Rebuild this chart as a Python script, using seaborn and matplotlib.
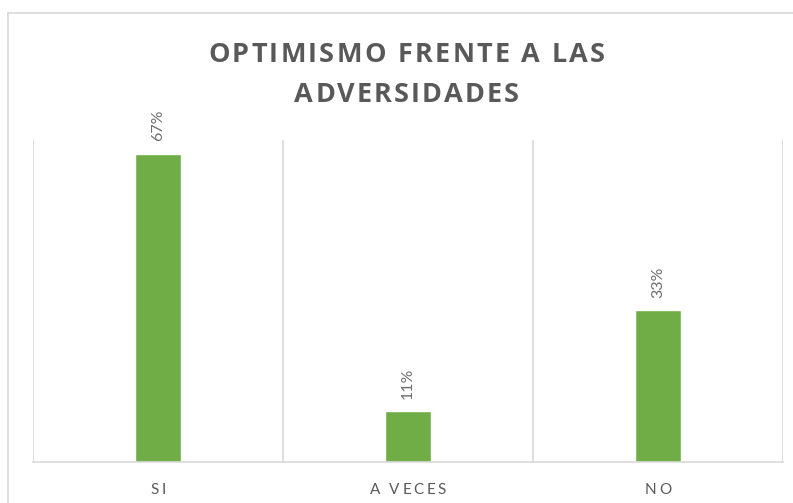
import numpy as np
import pandas as pd
import seaborn as sns
from matplotlib import pyplot as plt
from matplotlib.lines import Line2D
from matplotlib.font_manager import FontProperties
from matplotlib.transforms import offset_copy, blended_transform_factory

# data
categorias = ['SI', 'A VECES', 'NO']
porcentajes = [0.67, 0.11, 0.33]
etiquetas = ['67%', '11%', '33%']
titulo = ['OPTIMISMO FRENTE A LAS', 'ADVERSIDADES']

df = pd.DataFrame({'respuesta': categorias, 'valor': porcentajes})

sns.set_style('white')
familia = ['Lato', 'DejaVu Sans']
plt.rcParams['font.family'] = familia

fig = plt.figure(figsize=(7.93, 5.03), dpi=100)
fig.patch.set_facecolor('white')
ax = fig.add_axes([0.0416, 0.0815, 0.9458, 0.640])

sns.barplot(data=df, x='respuesta', y='valor', color='#70AD47', saturation=1,
            width=0.184, ax=ax)

ax.set_ylim(0, 0.7)
ax.set_xlim(-0.5, 2.5)
ax.set_yticks([])
ax.set_xlabel('')
ax.set_ylabel('')
for s in ['top', 'right', 'left']:
    ax.spines[s].set_visible(False)
ax.spines['bottom'].set_color('#d9d9d9')
ax.spines['bottom'].set_linewidth(1.2)

# separadores de categoria
for xb in [-0.5, 0.5, 1.5, 2.5]:
    ax.axvline(xb, color='#d9d9d9', lw=1.2, zorder=0)

ax.tick_params(axis='x', length=0)
ax.set_xticklabels([''] * len(categorias))

renderer = fig.canvas.get_renderer()


def texto_espaciado(x, y, s, prop, spacing, transform, color='#595959',
                    total_px=None):
    # texto con espaciado entre letras, centrado en x
    def ancho(t):
        return renderer.get_text_width_height_descent(t, prop, ismath=False)[0]

    base = ancho('HH')
    anchos = [ancho('H' + c + 'H') - base for c in s]
    if total_px is not None:
        spacing = (total_px - sum(anchos)) / (len(s) - 1)
    total = sum(anchos) + spacing * (len(s) - 1)
    pos = -total / 2
    for c, w in zip(s, anchos):
        if c != ' ':
            tr = offset_copy(transform, fig=fig, x=pos, y=0, units='dots')
            fig.text(x, y, c, transform=tr, ha='left', va='baseline',
                     fontproperties=prop, color=color)
        pos += w + spacing


# etiquetas del eje x
prop_x = FontProperties(family=familia, size=11)
tr_x = blended_transform_factory(ax.transData, fig.transFigure)
for i, cat in enumerate(categorias):
    texto_espaciado(i, 1 - 494 / 503, cat, prop_x, 2.6, tr_x)

# etiquetas de datos
for i, (v, t) in enumerate(zip(porcentajes, etiquetas)):
    ax.annotate(t, (i, v), xytext=(0, 9), textcoords='offset points',
                rotation=90, ha='center', va='bottom', fontsize=11.5,
                color='#6f6f6f')

# titulo
prop_t = FontProperties(family=['Open Sans', 'DejaVu Sans'], size=19.5,
                        weight='bold')
texto_espaciado(406.5 / 793, 1 - 62 / 503, titulo[0], prop_t, 0,
                fig.transFigure, total_px=397)
texto_espaciado(406.5 / 793, 1 - 102 / 503, titulo[1], prop_t, 0,
                fig.transFigure, total_px=224)

# borde del area del grafico
fig.add_artist(Line2D([8 / 793, 8 / 793], [0, 1 - 13 / 503], color='#d9d9d9',
                      lw=1.2, transform=fig.transFigure))
fig.add_artist(Line2D([8 / 793, 1], [1 - 13 / 503, 1 - 13 / 503],
                      color='#d9d9d9', lw=1.2, transform=fig.transFigure))

plt.savefig('out.png', dpi=100)
plt.close()
